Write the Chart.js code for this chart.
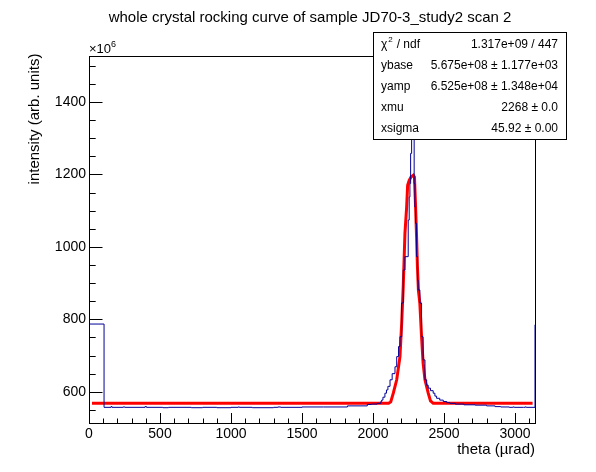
<!DOCTYPE html>
<html>
<head>
<meta charset="utf-8">
<script src="https://cdn.jsdelivr.net/npm/chart.js@4.4.1/dist/chart.umd.min.js"></script>
<style>
  body { margin: 0; background: #fff; }
  canvas { display: block; }
</style>
</head>
<body>
<canvas id="rockingChart" width="596" height="472"></canvas>
<script>
  // histogram: bin low edge (µrad) and content (x10^6)
  const blueTheta = [0, 106, 155, 162, 240, 254, 395, 405, 520, 560, 720, 800, 900, 1000, 1050, 1060,
    1150, 1300, 1330, 1350, 1500, 1650, 1820, 1960, 1990, 2030, 2055, 2061, 2070, 2084, 2095, 2105,
    2120, 2135, 2155, 2167, 2180, 2190, 2202, 2213, 2225, 2248, 2255, 2260, 2265, 2272, 2283, 2290,
    2295, 2300, 2307, 2314, 2318, 2330, 2342, 2353, 2366, 2378, 2389, 2405, 2424, 2436, 2448, 2470,
    2495, 2520, 2542, 2580, 2640, 2720, 2800, 2860, 2900, 2960, 2985, 2995, 3060, 3070, 3080, 3141, 3148];
  const blueCounts = [787, 557, 559, 557, 558, 557, 559, 557, 556, 557, 556, 557, 556, 557, 558, 557,
    556, 557, 558, 557, 558, 558, 561, 565, 566, 568, 573, 577, 585, 596, 605, 615,
    633, 650, 669, 697, 725, 752, 845, 936, 973, 1074, 1138, 1175, 1258, 1480, 1440, 1175,
    1110, 1065, 973, 908, 881, 845, 752, 688, 633, 618, 610, 603, 596, 588, 582, 577,
    573, 570, 568, 566, 564, 563, 561, 559, 558, 557, 558, 557, 557, 558, 557, 785, 785];

  // gaussian fit curve as drawn
  const fitTheta = [21, 2110, 2125, 2143, 2167, 2190, 2202, 2213, 2225, 2237, 2244, 2255, 2268, 2284,
    2292, 2300, 2307, 2313, 2320, 2330, 2342, 2353, 2366, 2389, 2405, 2424, 3124];
  const fitValues = [568, 568, 572, 596, 633, 697, 789, 890, 1037, 1110, 1170, 1184, 1193, 1198,
    1193, 1110, 1028, 945, 880, 844, 752, 679, 633, 596, 575, 568, 568];

  const xTickValues = [0, 500, 1000, 1500, 2000, 2500, 3000];
  const yTickValues = [600, 800, 1000, 1200, 1400];

  const statLabels = ['χ2 / ndf', 'ybase', 'yamp', 'xmu', 'xsigma'];
  const statValues = ['1.317e+09 / 447', '5.675e+08 ± 1.177e+03', '6.525e+08 ± 1.348e+04', '2268 ± 0.0', '45.92 ± 0.00'];

  const FONT = '"Liberation Sans", Arial, Helvetica, sans-serif';

  const rootFrame = {
    id: 'rootFrame',
    afterDraw(chart) {
      const { ctx, chartArea: a, scales: { x, y } } = chart;
      ctx.save();
      ctx.strokeStyle = '#000';
      ctx.lineWidth = 1;
      ctx.strokeRect(a.left + 0.5, a.top + 0.5, a.right - a.left - 1, a.bottom - a.top - 1);

      ctx.beginPath();
      for (let i = 0; i * 100 <= x.max; i++) {
        const px = Math.round(x.getPixelForValue(i * 100)) + 0.5;
        const len = i % 5 === 0 ? 11 : 5.5;
        ctx.moveTo(px, a.bottom);
        ctx.lineTo(px, a.bottom - len);
      }
      for (let i = 11; i * 50 <= y.max; i++) {
        const py = Math.round(y.getPixelForValue(i * 50)) + 0.5;
        const len = (i * 50) % 200 === 0 ? 13.5 : 6.7;
        ctx.moveTo(a.left, py);
        ctx.lineTo(a.left + len, py);
      }
      ctx.stroke();

      ctx.fillStyle = '#000';
      ctx.textBaseline = 'middle';
      ctx.textAlign = 'center';
      ctx.font = '15px ' + FONT;
      ctx.fillText('whole crystal rocking curve of sample JD70-3_study2 scan 2', 310, 18);

      ctx.textAlign = 'right';
      ctx.fillText('theta (µrad)', 535, 450);

      ctx.save();
      ctx.translate(35, 119);
      ctx.rotate(-Math.PI / 2);
      ctx.textAlign = 'center';
      ctx.fillText('intensity (arb. units)', 0, 0);
      ctx.restore();

      ctx.textAlign = 'left';
      ctx.textBaseline = 'alphabetic';
      ctx.font = '13px ' + FONT;
      ctx.fillText('×10', 89, 53);
      ctx.font = '9px ' + FONT;
      ctx.fillText('6', 111, 47);

      // stats box
      ctx.fillStyle = '#fff';
      ctx.fillRect(373, 32, 194, 107);
      ctx.strokeRect(373.5, 32.5, 193, 107);
      ctx.fillStyle = '#000';
      ctx.textBaseline = 'middle';
      statLabels.forEach((label, i) => {
        const ry = 45 + i * 21;
        ctx.font = '12px ' + FONT;
        ctx.textAlign = 'left';
        if (i === 0) {
          ctx.fillText('χ', 381, ry);
          const w = ctx.measureText('χ').width;
          ctx.font = '8px ' + FONT;
          ctx.fillText('2', 381 + w + 1, ry - 5);
          ctx.font = '12px ' + FONT;
          ctx.fillText(' / ndf', 381 + w + 6, ry);
        } else {
          ctx.fillText(label, 381, ry);
        }
        ctx.textAlign = 'right';
        ctx.fillText(statValues[i], 558, ry);
      });
      ctx.restore();
    }
  };

  const ctx = document.getElementById('rockingChart').getContext('2d');
  new Chart(ctx, {
    type: 'line',
    data: {
      datasets: [
        {
          label: 'scan 2',
          data: blueTheta.map((t, i) => ({ x: t, y: blueCounts[i] })),
          borderColor: '#000099',
          borderWidth: 1,
          stepped: 'before',
          pointRadius: 0,
          fill: false
        },
        {
          label: 'fit',
          data: fitTheta.map((t, i) => ({ x: t, y: fitValues[i] })),
          borderColor: '#ff0000',
          borderWidth: 3,
          pointRadius: 0,
          tension: 0,
          fill: false
        }
      ]
    },
    options: {
      responsive: false,
      animation: false,
      devicePixelRatio: 1,
      layout: { padding: { top: 56, right: 60, left: 0, bottom: 0 } },
      plugins: { legend: { display: false }, tooltip: { enabled: false } },
      scales: {
        x: {
          type: 'linear',
          min: 0,
          max: 3148,
          afterFit: s => { s.height = 48; },
          afterBuildTicks: s => { s.ticks = xTickValues.map(v => ({ value: v })); },
          grid: { display: false, drawTicks: false },
          border: { display: false },
          ticks: {
            color: '#000',
            padding: 2,
            maxRotation: 0,
            autoSkip: false,
            font: { size: 14, family: FONT },
            callback: v => String(v)
          }
        },
        y: {
          type: 'linear',
          min: 511,
          max: 1527,
          afterFit: s => { s.width = 89; },
          afterBuildTicks: s => { s.ticks = yTickValues.map(v => ({ value: v })); },
          grid: { display: false, drawTicks: false },
          border: { display: false },
          ticks: {
            color: '#000',
            padding: 3,
            autoSkip: false,
            font: { size: 14, family: FONT },
            callback: v => String(v)
          }
        }
      }
    },
    plugins: [rootFrame]
  });
</script>
</body>
</html>
